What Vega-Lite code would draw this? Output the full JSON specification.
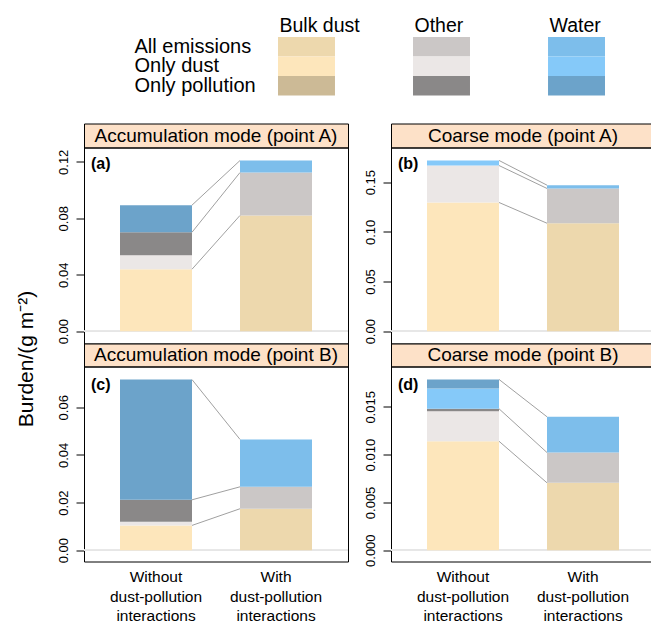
{
  "$schema": "https://vega.github.io/schema/vega-lite/v6.json",
  "padding": {"left": 14, "top": 15, "right": 5, "bottom": 5},
  "datasets": {
    "bars": [
      {"panel": "a", "cond": "Without", "comp": "Bulk dust", "src": "Only dust", "value": 0.0439},
      {"panel": "a", "cond": "Without", "comp": "Other", "src": "Only dust", "value": 0.0099},
      {"panel": "a", "cond": "Without", "comp": "Other", "src": "Only pollution", "value": 0.0163},
      {"panel": "a", "cond": "Without", "comp": "Water", "src": "Only pollution", "value": 0.0192},
      {"panel": "a", "cond": "With", "comp": "Bulk dust", "src": "All emissions", "value": 0.082},
      {"panel": "a", "cond": "With", "comp": "Other", "src": "All emissions", "value": 0.0304},
      {"panel": "a", "cond": "With", "comp": "Water", "src": "All emissions", "value": 0.0085},
      {"panel": "b", "cond": "Without", "comp": "Bulk dust", "src": "Only dust", "value": 0.1296},
      {"panel": "b", "cond": "Without", "comp": "Other", "src": "Only dust", "value": 0.0372},
      {"panel": "b", "cond": "Without", "comp": "Water", "src": "Only dust", "value": 0.0051},
      {"panel": "b", "cond": "With", "comp": "Bulk dust", "src": "All emissions", "value": 0.1087},
      {"panel": "b", "cond": "With", "comp": "Other", "src": "All emissions", "value": 0.035},
      {"panel": "b", "cond": "With", "comp": "Water", "src": "All emissions", "value": 0.0033},
      {"panel": "c", "cond": "Without", "comp": "Bulk dust", "src": "Only dust", "value": 0.0104},
      {"panel": "c", "cond": "Without", "comp": "Other", "src": "Only dust", "value": 0.0015},
      {"panel": "c", "cond": "Without", "comp": "Other", "src": "Only pollution", "value": 0.00925},
      {"panel": "c", "cond": "Without", "comp": "Water", "src": "Only pollution", "value": 0.05045},
      {"panel": "c", "cond": "With", "comp": "Bulk dust", "src": "All emissions", "value": 0.0174},
      {"panel": "c", "cond": "With", "comp": "Other", "src": "All emissions", "value": 0.0092},
      {"panel": "c", "cond": "With", "comp": "Water", "src": "All emissions", "value": 0.0199},
      {"panel": "d", "cond": "Without", "comp": "Bulk dust", "src": "Only dust", "value": 0.0114},
      {"panel": "d", "cond": "Without", "comp": "Other", "src": "Only dust", "value": 0.00315},
      {"panel": "d", "cond": "Without", "comp": "Other", "src": "Only pollution", "value": 0.00025},
      {"panel": "d", "cond": "Without", "comp": "Water", "src": "Only dust", "value": 0.00212},
      {"panel": "d", "cond": "Without", "comp": "Water", "src": "Only pollution", "value": 0.00095},
      {"panel": "d", "cond": "With", "comp": "Bulk dust", "src": "All emissions", "value": 0.00705},
      {"panel": "d", "cond": "With", "comp": "Other", "src": "All emissions", "value": 0.00317},
      {"panel": "d", "cond": "With", "comp": "Water", "src": "All emissions", "value": 0.00374}
    ],
    "legend": [
      {"comp": "Bulk dust", "src": "All emissions"},
      {"comp": "Bulk dust", "src": "Only dust"},
      {"comp": "Bulk dust", "src": "Only pollution"},
      {"comp": "Other", "src": "All emissions"},
      {"comp": "Other", "src": "Only dust"},
      {"comp": "Other", "src": "Only pollution"},
      {"comp": "Water", "src": "All emissions"},
      {"comp": "Water", "src": "Only dust"},
      {"comp": "Water", "src": "Only pollution"}
    ],
    "strips": [
      {"panel": "a", "label": "Accumulation mode (point A)"},
      {"panel": "b", "label": "Coarse mode (point A)"},
      {"panel": "c", "label": "Accumulation mode (point B)"},
      {"panel": "d", "label": "Coarse mode (point B)"}
    ]
  },
  "bounds": "flush",
  "spacing": 27.5,
  "vconcat": [
    {
      "width": 521,
      "height": 58.5,
      "data": {"name": "legend"},
      "transform": [{"calculate": "datum.comp + '|' + datum.src", "as": "key"}],
      "mark": {"type": "rect"},
      "encoding": {
        "x": {"field": "comp", "type": "nominal", "scale": {"paddingInner": 0.578, "paddingOuter": 0.7185, "align": 1},
          "axis": {"orient": "top", "title": null, "domain": false, "ticks": false, "tickSize": 0, "labelAngle": 0, "labelAlign": "left", "labelOffset": -27, "labelFontSize": 19.5, "labelPadding": 6, "labelBaseline": "alphabetic"}},
        "y": {"field": "src", "type": "nominal", "scale": {"paddingInner": 0, "paddingOuter": 0},
          "axis": {"title": null, "domain": false, "ticks": false, "tickSize": 0, "labelAlign": "left", "labelPadding": -50, "labelFontSize": 20}},
        "color": {"field": "key", "type": "nominal", "legend": null,
          "scale": {"domain": ["Bulk dust|All emissions", "Bulk dust|Only dust", "Bulk dust|Only pollution", "Other|All emissions", "Other|Only dust", "Other|Only pollution", "Water|All emissions", "Water|Only dust", "Water|Only pollution"],
            "range": ["#edd8ad", "#fde6bb", "#ccba96", "#cbc7c6", "#ebe7e6", "#8a8888", "#7dbeeb", "#85c9f9", "#6ca3ca"]}}
      }
    },
    {
      "bounds": "full",
      "spacing": 14,
      "hconcat": [
        {
          "bounds": "flush",
          "spacing": 0,
          "vconcat": [
            {
              "width": 264, "height": 24,
              "view": {"fill": "#fde1c8", "stroke": "black", "strokeWidth": 1},
              "data": {"name": "strips"},
              "transform": [{"filter": "datum.panel == 'a'"}],
              "mark": {"type": "text", "fontSize": 19},
              "encoding": {"text": {"field": "label"}}
            },
            {
              "width": 264, "height": 196,
              "view": {"stroke": "black", "strokeWidth": 1},
              "title": {"text": "(a)", "anchor": "start", "frame": "group", "offset": -37, "dx": 7, "fontSize": 16, "fontWeight": "bold", "baseline": "alphabetic"},
              "data": {"name": "bars"},
              "transform": [{"filter": "datum.panel == 'a'"}, {"calculate": "datum.comp + '|' + datum.src", "as": "key"}],
              "layer": [
                {"mark": {"type": "rule", "color": "#e6e6e6", "strokeWidth": 1},
                 "encoding": {"y": {"datum": 0, "type": "quantitative"}}},
                {"mark": {"type": "bar"},
                 "encoding": {
                   "x": {"field": "cond", "type": "nominal", "scale": {"domain": ["Without", "With"], "paddingInner": 0.4, "paddingOuter": 0.3}, "axis": null},
                   "y": {"field": "value", "type": "quantitative", "stack": "zero", "scale": {"domain": [-0.00871, 0.13013], "nice": false, "zero": false},
                     "axis": {"title": "Burden/(g m⁻²)", "titleFontSize": 21, "titleFontWeight": "normal", "titleAngle": 270, "titleAlign": "center", "titleBaseline": "alphabetic", "titleX": -52, "titleY": 211,
                       "values": [0, 0.02, 0.04, 0.06, 0.08, 0.1, 0.12], "labelExpr": "round(datum.value*100) % 4 == 0 ? format(datum.value, '.2f') : ''", "labelAngle": 270, "labelFontSize": 13, "tickSize": 8, "domain": false, "grid": false, "labelPadding": 6}},
                   "color": {"field": "key", "type": "nominal", "legend": null,
                     "scale": {"domain": ["Bulk dust|All emissions", "Bulk dust|Only dust", "Bulk dust|Only pollution", "Other|All emissions", "Other|Only dust", "Other|Only pollution", "Water|All emissions", "Water|Only dust", "Water|Only pollution"],
                       "range": ["#edd8ad", "#fde6bb", "#ccba96", "#cbc7c6", "#ebe7e6", "#8a8888", "#7dbeeb", "#85c9f9", "#6ca3ca"]}},
                   "order": {"field": "key", "sort": "ascending"}
                 }},
                {"transform": [
                   {"aggregate": [{"op": "sum", "field": "value", "as": "v"}], "groupby": ["cond", "comp"]},
                   {"window": [{"op": "sum", "field": "v", "as": "top"}], "groupby": ["cond"], "sort": [{"field": "comp"}], "frame": [null, 0]},
                   {"pivot": "cond", "value": "top", "groupby": ["comp"]}
                 ],
                 "mark": {"type": "rule", "color": "#a0a0a0", "strokeWidth": 1},
                 "encoding": {
                   "x": {"datum": "Without", "type": "nominal", "bandPosition": 1, "axis": null},
                   "x2": {"datum": "With", "bandPosition": 0},
                   "y": {"field": "Without", "type": "quantitative"},
                   "y2": {"field": "With"}
                 }}
              ]
            },
            {
              "width": 264, "height": 23,
              "view": {"fill": "#fde1c8", "stroke": "black", "strokeWidth": 1},
              "data": {"name": "strips"},
              "transform": [{"filter": "datum.panel == 'c'"}],
              "mark": {"type": "text", "fontSize": 19},
              "encoding": {"text": {"field": "label"}}
            },
            {
              "width": 264, "height": 195,
              "view": {"stroke": "black", "strokeWidth": 1},
              "title": {"text": "(c)", "anchor": "start", "frame": "group", "offset": -39, "dx": 7, "fontSize": 16, "fontWeight": "bold", "baseline": "alphabetic"},
              "data": {"name": "bars"},
              "transform": [{"filter": "datum.panel == 'c'"}, {"calculate": "datum.comp + '|' + datum.src", "as": "key"}],
              "layer": [
                {"mark": {"type": "rule", "color": "#e6e6e6", "strokeWidth": 1},
                 "encoding": {"y": {"datum": 0, "type": "quantitative", "title": null}}},
                {"mark": {"type": "bar"},
                 "encoding": {
                   "x": {"field": "cond", "type": "nominal", "scale": {"domain": ["Without", "With"], "paddingInner": 0.4, "paddingOuter": 0.3},
                     "axis": {"title": null, "ticks": false, "domain": false, "labelAngle": 0, "labelFontSize": 15.5, "labelLineHeight": 19.5, "labelPadding": 8, "labelBaseline": "top",
                       "labelExpr": "datum.value == 'Without' ? ['Without', 'dust-pollution', 'interactions'] : ['With', 'dust-pollution', 'interactions']"}},
                   "y": {"field": "value", "type": "quantitative", "stack": "zero", "scale": {"domain": [-0.00474, 0.07709], "nice": false, "zero": false},
                     "axis": {"title": null, "values": [0, 0.02, 0.04, 0.06], "format": ".2f", "labelAngle": 270, "labelFontSize": 13, "tickSize": 8, "domain": false, "grid": false, "labelPadding": 6}},
                   "color": {"field": "key", "type": "nominal", "legend": null,
                     "scale": {"domain": ["Bulk dust|All emissions", "Bulk dust|Only dust", "Bulk dust|Only pollution", "Other|All emissions", "Other|Only dust", "Other|Only pollution", "Water|All emissions", "Water|Only dust", "Water|Only pollution"],
                       "range": ["#edd8ad", "#fde6bb", "#ccba96", "#cbc7c6", "#ebe7e6", "#8a8888", "#7dbeeb", "#85c9f9", "#6ca3ca"]}},
                   "order": {"field": "key", "sort": "ascending"}
                 }},
                {"transform": [
                   {"aggregate": [{"op": "sum", "field": "value", "as": "v"}], "groupby": ["cond", "comp"]},
                   {"window": [{"op": "sum", "field": "v", "as": "top"}], "groupby": ["cond"], "sort": [{"field": "comp"}], "frame": [null, 0]},
                   {"pivot": "cond", "value": "top", "groupby": ["comp"]}
                 ],
                 "mark": {"type": "rule", "color": "#a0a0a0", "strokeWidth": 1},
                 "encoding": {
                   "x": {"datum": "Without", "type": "nominal", "bandPosition": 1},
                   "x2": {"datum": "With", "bandPosition": 0},
                   "y": {"field": "Without", "type": "quantitative"},
                   "y2": {"field": "With"}
                 }}
              ]
            }
          ]
        },
        {
          "bounds": "flush",
          "spacing": 0,
          "vconcat": [
            {
              "width": 264, "height": 24,
              "view": {"fill": "#fde1c8", "stroke": "black", "strokeWidth": 1},
              "data": {"name": "strips"},
              "transform": [{"filter": "datum.panel == 'b'"}],
              "mark": {"type": "text", "fontSize": 19},
              "encoding": {"text": {"field": "label"}}
            },
            {
              "width": 264, "height": 196,
              "view": {"stroke": "black", "strokeWidth": 1},
              "title": {"text": "(b)", "anchor": "start", "frame": "group", "offset": -37, "dx": 7, "fontSize": 16, "fontWeight": "bold", "baseline": "alphabetic"},
              "data": {"name": "bars"},
              "transform": [{"filter": "datum.panel == 'b'"}, {"calculate": "datum.comp + '|' + datum.src", "as": "key"}],
              "layer": [
                {"mark": {"type": "rule", "color": "#e6e6e6", "strokeWidth": 1},
                 "encoding": {"y": {"datum": 0, "type": "quantitative", "title": null}}},
                {"mark": {"type": "bar"},
                 "encoding": {
                   "x": {"field": "cond", "type": "nominal", "scale": {"domain": ["Without", "With"], "paddingInner": 0.4, "paddingOuter": 0.3}, "axis": null},
                   "y": {"field": "value", "type": "quantitative", "stack": "zero", "scale": {"domain": [-0.01238, 0.18494], "nice": false, "zero": false},
                     "axis": {"title": null, "values": [0, 0.05, 0.1, 0.15], "format": ".2f", "labelAngle": 270, "labelFontSize": 13, "tickSize": 8, "domain": false, "grid": false, "labelPadding": 6}},
                   "color": {"field": "key", "type": "nominal", "legend": null,
                     "scale": {"domain": ["Bulk dust|All emissions", "Bulk dust|Only dust", "Bulk dust|Only pollution", "Other|All emissions", "Other|Only dust", "Other|Only pollution", "Water|All emissions", "Water|Only dust", "Water|Only pollution"],
                       "range": ["#edd8ad", "#fde6bb", "#ccba96", "#cbc7c6", "#ebe7e6", "#8a8888", "#7dbeeb", "#85c9f9", "#6ca3ca"]}},
                   "order": {"field": "key", "sort": "ascending"}
                 }},
                {"transform": [
                   {"aggregate": [{"op": "sum", "field": "value", "as": "v"}], "groupby": ["cond", "comp"]},
                   {"window": [{"op": "sum", "field": "v", "as": "top"}], "groupby": ["cond"], "sort": [{"field": "comp"}], "frame": [null, 0]},
                   {"pivot": "cond", "value": "top", "groupby": ["comp"]}
                 ],
                 "mark": {"type": "rule", "color": "#a0a0a0", "strokeWidth": 1},
                 "encoding": {
                   "x": {"datum": "Without", "type": "nominal", "bandPosition": 1, "axis": null},
                   "x2": {"datum": "With", "bandPosition": 0},
                   "y": {"field": "Without", "type": "quantitative", "title": null},
                   "y2": {"field": "With"}
                 }}
              ]
            },
            {
              "width": 264, "height": 23,
              "view": {"fill": "#fde1c8", "stroke": "black", "strokeWidth": 1},
              "data": {"name": "strips"},
              "transform": [{"filter": "datum.panel == 'd'"}],
              "mark": {"type": "text", "fontSize": 19},
              "encoding": {"text": {"field": "label"}}
            },
            {
              "width": 264, "height": 195,
              "view": {"stroke": "black", "strokeWidth": 1},
              "title": {"text": "(d)", "anchor": "start", "frame": "group", "offset": -39, "dx": 7, "fontSize": 16, "fontWeight": "bold", "baseline": "alphabetic"},
              "data": {"name": "bars"},
              "transform": [{"filter": "datum.panel == 'd'"}, {"calculate": "datum.comp + '|' + datum.src", "as": "key"}],
              "layer": [
                {"mark": {"type": "rule", "color": "#e6e6e6", "strokeWidth": 1},
                 "encoding": {"y": {"datum": 0, "type": "quantitative", "title": null}}},
                {"mark": {"type": "bar"},
                 "encoding": {
                   "x": {"field": "cond", "type": "nominal", "scale": {"domain": ["Without", "With"], "paddingInner": 0.4, "paddingOuter": 0.3},
                     "axis": {"title": null, "ticks": false, "domain": false, "labelAngle": 0, "labelFontSize": 15.5, "labelLineHeight": 19.5, "labelPadding": 8, "labelBaseline": "top",
                       "labelExpr": "datum.value == 'Without' ? ['Without', 'dust-pollution', 'interactions'] : ['With', 'dust-pollution', 'interactions']"}},
                   "y": {"field": "value", "type": "quantitative", "stack": "zero", "scale": {"domain": [-0.001183, 0.019223], "nice": false, "zero": false},
                     "axis": {"title": null, "values": [0, 0.005, 0.01, 0.015], "format": ".3f", "labelAngle": 270, "labelFontSize": 13, "tickSize": 8, "domain": false, "grid": false, "labelPadding": 6}},
                   "color": {"field": "key", "type": "nominal", "legend": null,
                     "scale": {"domain": ["Bulk dust|All emissions", "Bulk dust|Only dust", "Bulk dust|Only pollution", "Other|All emissions", "Other|Only dust", "Other|Only pollution", "Water|All emissions", "Water|Only dust", "Water|Only pollution"],
                       "range": ["#edd8ad", "#fde6bb", "#ccba96", "#cbc7c6", "#ebe7e6", "#8a8888", "#7dbeeb", "#85c9f9", "#6ca3ca"]}},
                   "order": {"field": "key", "sort": "ascending"}
                 }},
                {"transform": [
                   {"aggregate": [{"op": "sum", "field": "value", "as": "v"}], "groupby": ["cond", "comp"]},
                   {"window": [{"op": "sum", "field": "v", "as": "top"}], "groupby": ["cond"], "sort": [{"field": "comp"}], "frame": [null, 0]},
                   {"pivot": "cond", "value": "top", "groupby": ["comp"]}
                 ],
                 "mark": {"type": "rule", "color": "#a0a0a0", "strokeWidth": 1},
                 "encoding": {
                   "x": {"datum": "Without", "type": "nominal", "bandPosition": 1},
                   "x2": {"datum": "With", "bandPosition": 0},
                   "y": {"field": "Without", "type": "quantitative"},
                   "y2": {"field": "With"}
                 }}
              ]
            }
          ]
        }
      ]
    }
  ],
  "config": {
    "font": "Liberation Sans",
    "view": {"stroke": null},
    "axis": {"labelColor": "black", "tickColor": "black", "titleColor": "black", "labelFont": "Liberation Sans", "titleFont": "Liberation Sans"},
    "text": {"font": "Liberation Sans", "color": "black"},
    "title": {"color": "black", "font": "Liberation Sans"}
  }
}
